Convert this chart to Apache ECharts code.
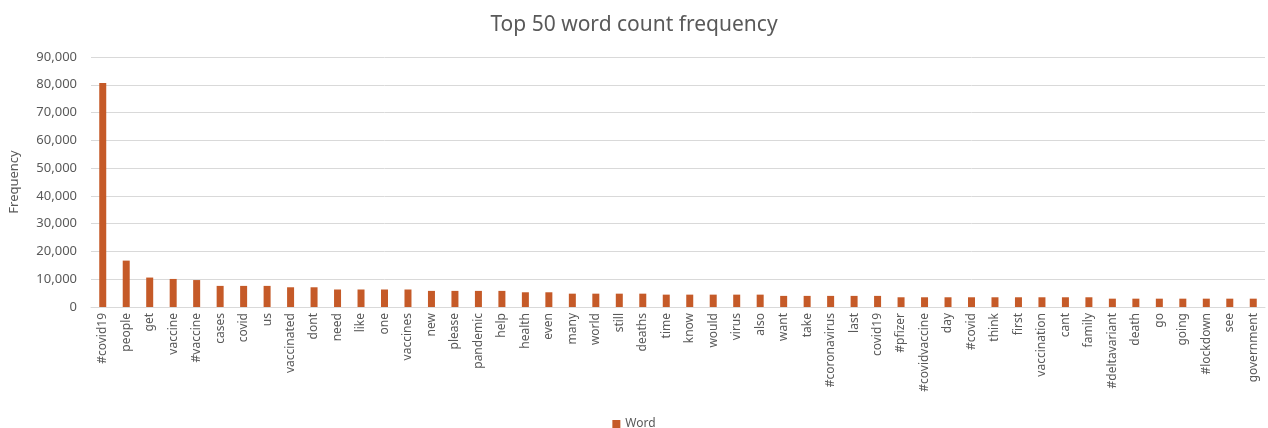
<!DOCTYPE html>
<html>
<head>
<meta charset="utf-8">
<script src="https://cdn.jsdelivr.net/npm/echarts@6/dist/echarts.min.js"></script>
<style>
  html, body { margin: 0; padding: 0; background: #fff; }
  #chart { width: 1268px; height: 428px; }
</style>
</head>
<body>
<div id="chart"></div>
<script>
const words = ['#covid19', 'people', 'get', 'vaccine', '#vaccine', 'cases', 'covid', 'us', 'vaccinated', 'dont',
  'need', 'like', 'one', 'vaccines', 'new', 'please', 'pandemic', 'help', 'health', 'even',
  'many', 'world', 'still', 'deaths', 'time', 'know', 'would', 'virus', 'also', 'want',
  'take', '#coronavirus', 'last', 'covid19', '#pfizer', '#covidvaccine', 'day', '#covid', 'think', 'first',
  'vaccination', 'cant', 'family', '#deltavariant', 'death', 'go', 'going', '#lockdown', 'see', 'government']

const counts = [80600, 16700, 10600, 10100, 9700, 7600, 7600, 7600, 7100, 7100,
  6300, 6300, 6300, 6300, 5800, 5800, 5800, 5800, 5300, 5300,
  4800, 4800, 4800, 4800, 4450, 4450, 4450, 4450, 4450, 4000,
  4000, 4000, 4000, 4000, 3500, 3500, 3500, 3500, 3500, 3500,
  3500, 3500, 3500, 3000, 3000, 3000, 3000, 3000, 3000, 3000]

const yTicks = { min: 0, max: 90000, interval: 10000 }

const chart = echarts.init(document.getElementById('chart'))
const textColor = '#595959'
const font = 'Noto Sans'

chart.setOption({
  animation: false,
  title: {
    text: 'Top 50 word count frequency',
    left: 'center',
    top: 10,
    textStyle: { fontFamily: font, fontSize: 21, fontWeight: 'normal', color: textColor }
  },
  legend: {
    data: ['Word'],
    top: 413,
    left: 'center',
    icon: 'rect',
    itemWidth: 8,
    itemHeight: 8,
    itemGap: 6,
    textStyle: { fontFamily: font, fontSize: 12, color: textColor }
  },
  grid: { left: 88, right: 3, top: 57, bottom: 121 },
  xAxis: {
    type: 'category',
    data: words,
    axisTick: { show: false },
    axisLine: { lineStyle: { color: '#d9d9d9' } },
    axisLabel: {
      rotate: 90,
      interval: 0,
      margin: 6,
      fontFamily: font,
      fontSize: 12,
      color: textColor
    }
  },
  yAxis: {
    type: 'value',
    min: yTicks.min,
    max: yTicks.max,
    interval: yTicks.interval,
    name: 'Frequency',
    nameLocation: 'middle',
    nameGap: 70,
    nameTextStyle: { fontFamily: font, fontSize: 13, color: textColor },
    axisLine: { show: false },
    axisTick: { show: false },
    splitLine: { lineStyle: { color: '#d9d9d9' } },
    axisLabel: {
      margin: 14,
      fontFamily: font,
      fontSize: 13,
      color: textColor,
      formatter: v => v.toLocaleString('en-US')
    }
  },
  series: [{
    name: 'Word',
    type: 'bar',
    data: counts,
    barWidth: 7,
    itemStyle: { color: '#c55a28' }
  }]
})
</script>
</body>
</html>
